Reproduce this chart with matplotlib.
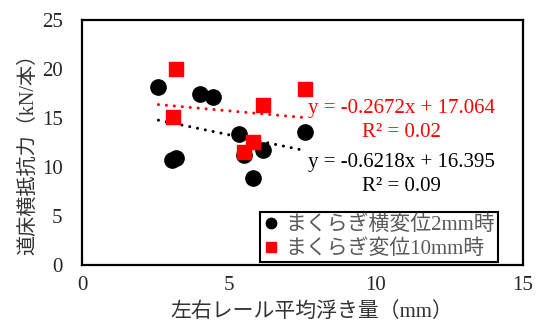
import matplotlib
matplotlib.use("Agg")
import matplotlib.pyplot as plt
from matplotlib.lines import Line2D

# data
black_x = [2.6, 4.0, 4.47, 3.05, 3.2, 5.35, 6.15, 5.83, 7.59, 5.5]
black_y = [18.2, 17.5, 17.1, 10.7, 10.9, 13.4, 11.7, 8.85, 13.6, 11.2]
red_x = [3.2, 3.08, 6.17, 7.59, 5.83, 5.51]
red_y = [19.97, 15.07, 16.3, 18.0, 12.6, 11.56]

black_fit = (-0.6218, 16.395)
red_fit = (-0.2672, 17.064)

black_label = 'まくらぎ横変位2mm時'
red_label = 'まくらぎ変位10mm時'
x_label = '左右レール平均浮き量（mm）'
y_label = '道床横抵抗力（kN/本）'
x_ticks = [0, 5, 10, 15]
y_ticks = [0, 5, 10, 15, 20, 25]

plt.rcParams['font.family'] = ['Liberation Serif', 'Noto Sans CJK JP']

fig = plt.figure(figsize=(5.49, 3.34), dpi=100)
ax = fig.add_axes([82 / 549, 1 - 265 / 334, 441 / 549, 245 / 334])

ax.scatter(black_x, black_y, s=11 ** 2, marker='o', color='black', zorder=3)
ax.scatter(red_x, red_y, s=10 ** 2, marker='s', color='red', zorder=4)

# trendlines over the data range
x0, x1 = min(black_x), max(black_x)
for (m, b), c in [(black_fit, 'black'), (red_fit, 'red')]:
    ax.plot([x0, x1], [m * x0 + b, m * x1 + b], color=c, lw=2.2,
            linestyle=(0, (0.01, 2.6)), dash_capstyle='round', zorder=2)

ax.text(0.7245, 0.637, 'y = -0.2672x + 17.064', color='red', fontsize=15,
        ha='center', va='center', transform=ax.transAxes)
ax.text(0.7245, 0.539, 'R² = 0.02', color='red', fontsize=15,
        ha='center', va='center', transform=ax.transAxes)
ax.text(0.7245, 0.420, 'y = -0.6218x + 16.395', color='black', fontsize=15,
        ha='center', va='center', transform=ax.transAxes)
ax.text(0.7245, 0.322, 'R² = 0.09', color='black', fontsize=15,
        ha='center', va='center', transform=ax.transAxes)

ax.set_xlim(0, 15)
ax.set_ylim(0, 25)
ax.set_xticks(x_ticks)
ax.set_yticks(y_ticks)
ax.tick_params(length=0, labelsize=15, colors='#262626')
ax.tick_params(axis='x', pad=8)
ax.tick_params(axis='y', pad=14)
for s in ax.spines.values():
    s.set_linewidth(1.6)
    s.set_color('black')

ax.set_xlabel(x_label, fontsize=15, color='#333333')
ax.set_ylabel(y_label, fontsize=14.5, color='#333333')
ax.xaxis.set_label_coords(0.522, -0.151)
ax.yaxis.set_label_coords(-0.1, 0.47)

handles = [
    Line2D([], [], marker='o', color='black', linestyle='none', markersize=7.5),
    Line2D([], [], marker='s', color='red', linestyle='none', markersize=7),
]
leg = ax.legend(handles, [black_label, red_label], loc='lower right',
                bbox_to_anchor=(0.943, 0.012), borderaxespad=0,
                fontsize=15, labelcolor='#595959', fancybox=False,
                edgecolor='black', framealpha=1, handlelength=0.7,
                handletextpad=0.35, borderpad=0.15, labelspacing=0.2)
leg.get_frame().set_linewidth(1.5)

fig.savefig('out.png', dpi=100)
